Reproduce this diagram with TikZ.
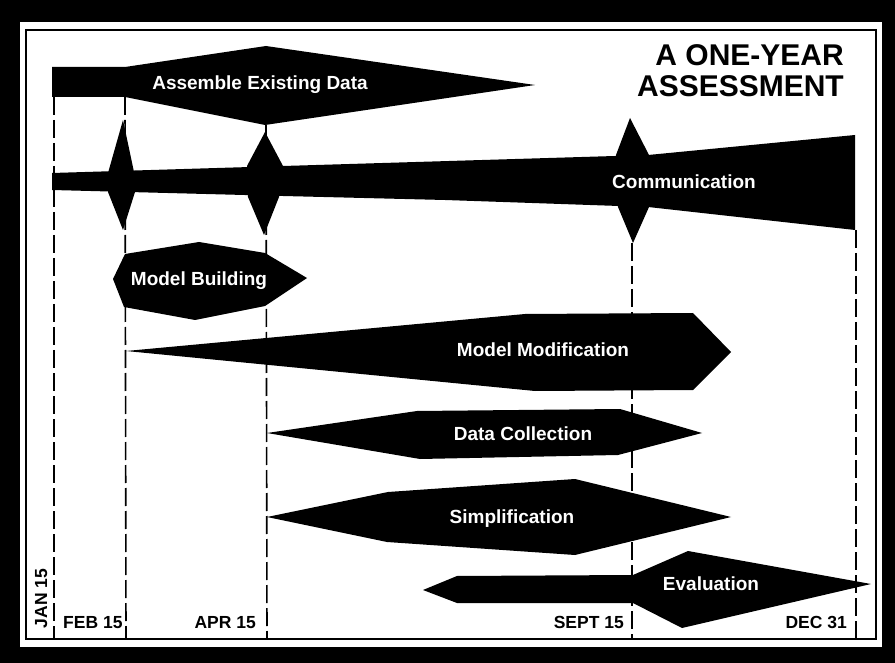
\documentclass[tikz,border=0pt]{standalone}
\usepackage{fontspec}
\setmainfont{Liberation Sans}
\begin{document}
\begin{tikzpicture}[x=1pt,y=-1pt,
  dashline/.style={line width=1.6pt, dash pattern=on 18pt off 5pt},
  bar/.style={fill=black},
  lab/.style={text=white, font=\bfseries\fontsize{19}{19}\selectfont, inner sep=0pt, anchor=base},
  datelab/.style={font=\bfseries\fontsize{17.5}{17.5}\selectfont, inner sep=0pt},
  titlelab/.style={font=\bfseries\fontsize{30}{30}\selectfont, inner sep=0pt, anchor=base east}]
\useasboundingbox (0,0) rectangle (895,663);
% frame
\fill[black] (0,0) rectangle (895,663);
\fill[white] (20,22) rectangle (882,647);
\draw[line width=1.5pt] (26,30) rectangle (876,639);
% date lines
\coordinate (jant) at (54,97);   \coordinate (janb) at (54,639);
\coordinate (febt) at (125,97);  \coordinate (febb) at (126,639);
\coordinate (aprt) at (266,125); \coordinate (aprb) at (267,639);
\coordinate (sept) at (632,243); \coordinate (sepb) at (632,639);
\coordinate (dect) at (856,230); \coordinate (decb) at (856,639);
\draw[dashline] (jant) -- (janb);
\draw[dashline] (febt) -- (febb);
\draw[dashline] (aprt) -- (aprb);
\draw[dashline] (sept) -- (sepb);
\draw[dashline] (dect) -- (decb);
% Assemble Existing Data
\fill[bar] (52,67) -- (125,67) -- (266,46) -- (535,85) -- (265,125) -- (125,97) -- (52,97) -- cycle;
% Communication bar and diamonds
\fill[bar] (52,173) -- (283,166) -- (648,155) -- (855,135) -- (855,230) -- (648,207) -- (445,200) -- (283,196) -- (52,190) -- cycle;
\fill[bar] (123,120) -- (134,172) -- (135,192) -- (123,230) -- (108,192) -- (108,173) -- cycle;
\fill[bar] (265,132) -- (283,166) -- (279,197) -- (264,235) -- (248,197) -- (247,166) -- cycle;
\fill[bar] (630,118) -- (649,155) -- (649,207) -- (633,243) -- (618,207) -- (616,155) -- cycle;
% Model Building
\fill[bar] (113,279) -- (125,254) -- (199,242) -- (265,253) -- (307,278) -- (265,306) -- (195,320) -- (124,307) -- cycle;
% Model Modification
\fill[bar] (126,351) -- (525,314) -- (693,313) -- (731,352) -- (693,390) -- (535,391) -- cycle;
% Data Collection
\fill[bar] (267,433) -- (417,411) -- (620,409) -- (702,433) -- (618,455) -- (420,459) -- cycle;
% Simplification
\fill[bar] (267,517) -- (388,492) -- (575,479) -- (731,517) -- (575,555) -- (387,542) -- cycle;
% Evaluation
\fill[bar] (423,590) -- (457,576) -- (633,575) -- (688,551) -- (871,584) -- (682,628) -- (633,603) -- (457,603) -- cycle;
% labels
\node[lab] (assemble) at (260,89.3) {Assemble Existing Data};
\node[lab] (comm) at (684,188.3) {Communication};
\node[lab] (build) at (199,286) {Model Building};
\node[lab] (modif) at (543,356.7) {Model Modification};
\node[lab] (collect) at (523,440.5) {Data Collection};
\node[lab] (simpl) at (512,523.3) {Simplification};
\node[lab] (evalu) at (711,590) {Evaluation};
% title
\node[titlelab] (title1) at (844,66) {A ONE-YEAR};
\node[titlelab] (title2) at (844,96.7) {ASSESSMENT};
% dates
\node[datelab, anchor=base west, rotate=90] (jan) at (47,628.3) {JAN 15};
\node[datelab, anchor=base west] (feb) at (63,628.3) {FEB 15};
\node[datelab, anchor=base east] (apr) at (256,628.3) {APR 15};
\node[datelab, anchor=base east] (sepl) at (624,628.3) {SEPT 15};
\node[datelab, anchor=base east] (dec) at (847,628.3) {DEC 31};
\end{tikzpicture}
\end{document}
